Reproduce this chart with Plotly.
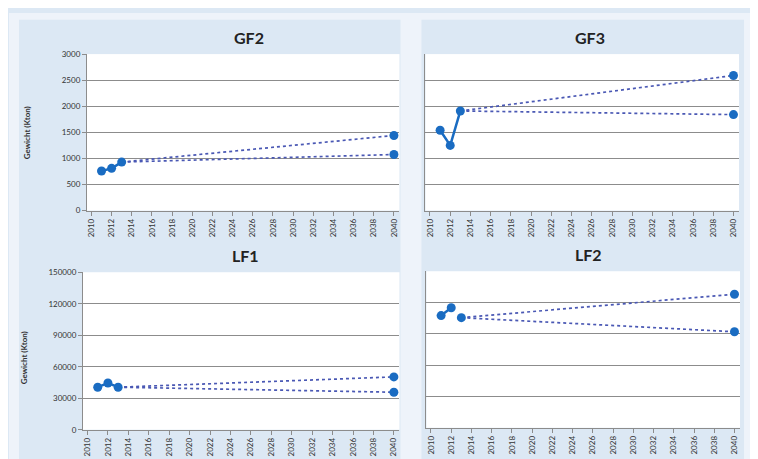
import plotly.graph_objects as go

W, H = 758, 459

# ---- data ----
hist_years = [2011, 2012, 2013]
proj_years = [2013, 2040]

gf2_hist = [760, 810, 930]
gf2_high = [930, 1440]
gf2_low = [930, 1075]

gf3_hist = [1540, 1250, 1910]
gf3_high = [1910, 2590]
gf3_low = [1910, 1840]

lf1_hist = [40500, 44500, 40500]
lf1_high = [40500, 50300]
lf1_low = [40500, 35700]

lf2_hist = [107500, 115000, 105500]
lf2_high = [105500, 128000]
lf2_low = [105500, 92000]

panel_titles = ["GF2", "GF3", "LF1", "LF2"]
y_title = "Gewicht (Kton)"
x_ticks = list(range(2010, 2041, 2))
gf_yticks = [0, 500, 1000, 1500, 2000, 2500, 3000]
lf_yticks = [0, 30000, 60000, 90000, 120000, 150000]

MARK = "#1a6cc2"
DOT = "#4a58b4"
GRID = "#8c8c8c"
FONT = "Lato, 'Open Sans', sans-serif"

# plot area pixel boxes: (x0, x1, ytop, ybottom)
boxes = [
    (78, 391, 42, 202),
    (417, 731, 42, 202),
    (74, 391, 265, 426),
    (418, 732, 264, 424),
]

fig = go.Figure()

panels = [
    (gf2_hist, gf2_high, gf2_low, gf_yticks, True, [(0, 3)]),
    (gf3_hist, gf3_high, gf3_low, gf_yticks, False, [(0, 3)]),
    (lf1_hist, lf1_high, lf1_low, lf_yticks, True, [(0, 3)]),
    (lf2_hist, lf2_high, lf2_low, lf_yticks, False, [(0, 2), (2, 3)]),
]

layout = {}
for i, ((hist, high, low, yt, showy, segs), box) in enumerate(zip(panels, boxes)):
    n = "" if i == 0 else str(i + 1)
    xa, ya = "x" + n, "y" + n
    x0, x1, yt_px, yb_px = box
    for proj in (high, low):
        fig.add_trace(go.Scatter(
            x=proj_years, y=proj, mode="lines",
            line=dict(color=DOT, width=1.7, dash="dot"),
            xaxis=xa, yaxis=ya, showlegend=False, cliponaxis=False))
    for s0, s1 in segs:
        fig.add_trace(go.Scatter(
            x=hist_years[s0:s1], y=hist[s0:s1], mode="lines+markers",
            line=dict(color=MARK, width=2.5), marker=dict(color=MARK, size=9),
            xaxis=xa, yaxis=ya, showlegend=False, cliponaxis=False))
    for proj in (high, low):
        fig.add_trace(go.Scatter(
            x=proj_years[1:], y=proj[1:], mode="markers",
            marker=dict(color=MARK, size=9),
            xaxis=xa, yaxis=ya, showlegend=False, cliponaxis=False))
    layout["xaxis" + n] = dict(
        domain=[x0 / W, x1 / W], anchor=ya, range=[2009.55, 2040.55],
        tickvals=x_ticks, ticktext=[str(v) for v in x_ticks], tickangle=-90,
        ticks="outside", ticklen=4, tickcolor=GRID, showgrid=False,
        showline=True, linecolor=GRID, linewidth=1, zeroline=False,
        tickfont=dict(size=8, color="#333", family=FONT), fixedrange=True)
    layout["yaxis" + n] = dict(
        domain=[1 - yb_px / H, 1 - yt_px / H], anchor=xa,
        range=[0, yt[-1]], tickvals=yt, ticktext=[str(v) for v in yt],
        showticklabels=showy,
        ticks="outside" if showy else "", ticklen=4, tickcolor=GRID,
        showgrid=True, gridcolor=GRID, gridwidth=1,
        showline=True, linecolor=GRID, linewidth=1, zeroline=False,
        tickfont=dict(size=8, color="#333", family=FONT), fixedrange=True)

fig.update_layout(**layout)

LIGHT = "#eef3fa"
def strip(x0, x1, y0, y1):
    return dict(type="rect", xref="paper", yref="paper", x0=x0 / W, x1=x1 / W,
                y0=1 - y1 / H, y1=1 - y0 / H, fillcolor=LIGHT, line_width=0, layer="below")

shapes = [
    strip(0, 10, 0, H),
    strip(0, W, 0, 7),
    strip(392, 413, 0, H),
    strip(736, W, 0, H),
]

annotations = []
title_pos = [(240, 25), (582, 25), (237, 248), (580, 247)]
for t, (tx, ty) in zip(panel_titles, title_pos):
    annotations.append(dict(text="<b>" + t + "</b>", x=tx / W, y=1 - ty / H, xref="paper", yref="paper",
                            showarrow=False, xanchor="center", yanchor="middle",
                            font=dict(size=16, color="#222", family=FONT)))
for (lx, ly) in [(18, 122), (15, 352)]:
    annotations.append(dict(text="<b>" + y_title + "</b>", x=lx / W, y=1 - ly / H, xref="paper", yref="paper",
                            showarrow=False, textangle=-90, xanchor="center", yanchor="middle",
                            font=dict(size=8, color="#333", family=FONT)))

fig.update_layout(
    width=W, height=H, margin=dict(l=0, r=0, t=0, b=0),
    paper_bgcolor="#dce8f4", plot_bgcolor="white",
    shapes=shapes, annotations=annotations, showlegend=False,
)

fig.write_html("out.html", config={"displayModeBar": False})
